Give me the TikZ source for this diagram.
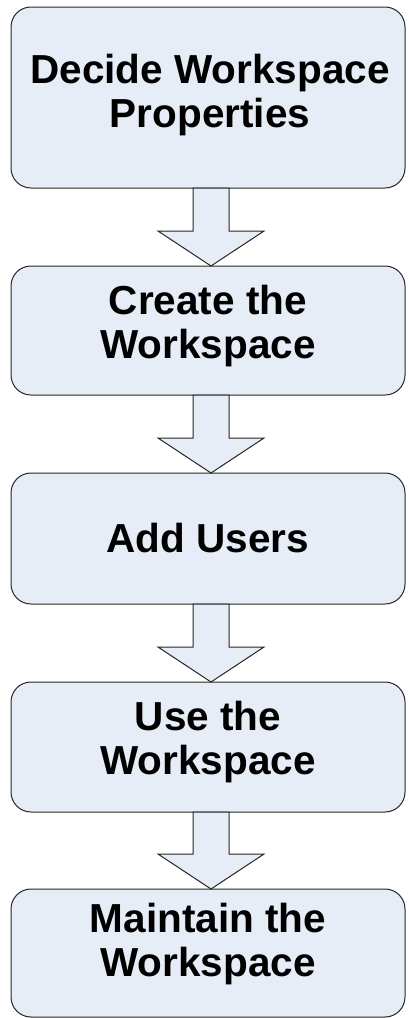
\documentclass[tikz,border=0pt]{standalone}
\usepackage{fontspec}
\setmainfont{Liberation Sans}
\usetikzlibrary{calc}
\definecolor{boxfill}{RGB}{231,237,247}
\definecolor{edge}{RGB}{38,38,38}
\tikzset{
  stepbox/.style={draw=edge, fill=boxfill, line width=1pt, rounded corners=20pt,
    minimum width=394pt, inner sep=0pt, outer sep=0pt},
  steptext/.style={font=\fontsize{40.5}{44}\selectfont\bfseries, align=center, inner sep=0pt},
  flowarrow/.style={draw=edge, fill=boxfill, line width=1pt, line join=miter},
}
% block arrow from the bottom of one step to the top of the next
\newcommand\blockarrow[2]{%
  \draw[flowarrow]
    ($(#1.south)+(-15,0)$) -- ($(#1.south)+(21,0)$) --
    ($(#2.north)+(21,-35)$) -- ($(#2.north)+(56,-35)$) --
    ($(#2.north)+(3,0)$) --
    ($(#2.north)+(-50,-35)$) -- ($(#2.north)+(-15,-35)$) -- cycle;}
\begin{document}
\begin{tikzpicture}[x=1pt, y=-1pt]
  \useasboundingbox (0,0) rectangle (408,1018);
  \fill[white] (0,0) rectangle (408,1018);

  % steps
  \node[stepbox, minimum height=181pt] (b1) at (208,97.5) {};
  \node[stepbox, minimum height=129pt] (b2) at (208,330.5) {};
  \node[stepbox, minimum height=131pt] (b3) at (208,538.5) {};
  \node[stepbox, minimum height=130pt] (b4) at (208,747) {};
  \node[stepbox, minimum height=128pt] (b5) at (208,953) {};

  % step labels
  \node[steptext] (t1) at ($(b1.center)+(2,-2)$) {Decide Workspace\\Properties};
  \node[steptext] (t2) at ($(b2.center)+(0,-4)$) {Create the\\Workspace};
  \node[steptext] (t3) at ($(b3.center)+(0,0)$) {Add Users};
  \node[steptext] (t4) at ($(b4.center)+(0,-5)$) {Use the\\Workspace};
  \node[steptext] (t5) at ($(b5.center)+(0,-9)$) {Maintain the\\Workspace};

  % flow
  \blockarrow{b1}{b2}
  \blockarrow{b2}{b3}
  \blockarrow{b3}{b4}
  \blockarrow{b4}{b5}
\end{tikzpicture}
\end{document}
